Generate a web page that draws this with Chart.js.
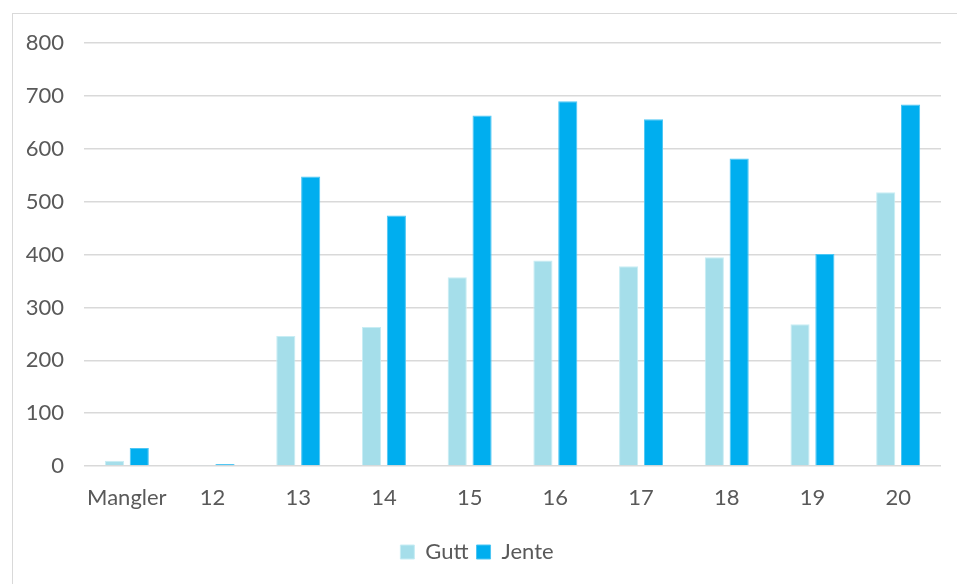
<!DOCTYPE html>
<html>
<head>
<meta charset="utf-8">
<script src="https://cdn.jsdelivr.net/npm/chart.js@4/dist/chart.umd.min.js"></script>
<style>
  body { margin: 0; background: #fff; }
  #box {
    position: absolute; left: 12px; top: 13px;
    width: 960px; height: 590px;
    border: 1px solid #d9d9d9;
    overflow: hidden;
  }
  #chart { position: relative; top: -4px; }
</style>
</head>
<body>
<div id="box"><canvas id="chart" width="960" height="575"></canvas></div>
<script>
const labels = ["Mangler", "12", "13", "14", "15", "16", "17", "18", "19", "20"];
const gutt = [10, 1, 246, 263, 357, 389, 378, 395, 268, 518];
const jente = [34, 4, 548, 474, 663, 690, 656, 582, 401, 684];

Chart.defaults.font.family = "Lato, 'Liberation Sans', sans-serif";
Chart.defaults.font.size = 22;
Chart.defaults.color = "#595959";

const config = {
    type: "bar",
    data: {
        labels,
        datasets: [
            {
                label: "Gutt",
                data: gutt,
                backgroundColor: "#a5deea",
                borderColor: "#c8edf4",
                borderWidth: 1,
                categoryPercentage: 0.58,
                barPercentage: 0.77,
            },
            {
                label: "Jente",
                data: jente,
                backgroundColor: "#00aeef",
                borderColor: "#4cc6f4",
                borderWidth: 1,
                categoryPercentage: 0.58,
                barPercentage: 0.77,
            },
        ],
    },
    options: {
        responsive: false,
        animation: false,
        layout: { padding: { left: 0, right: 32, top: 10, bottom: 12 } },
        plugins: {
            tooltip: { enabled: false },
            legend: {
                position: "bottom",
                labels: { boxWidth: 14, boxHeight: 14, padding: 8 },
            },
        },
        scales: {
            x: {
                grid: { display: false },
                border: { display: false },
                ticks: { padding: 11, maxRotation: 0 },
                afterFit: (s) => { s.height = 67; },
            },
            y: {
                min: 0,
                max: 800,
                ticks: { stepSize: 100, padding: 20 },
                grid: { color: "#d9d9d9", lineWidth: 1.5, drawTicks: false },
                border: { display: false },
                afterFit: (s) => { s.width = 71; },
            },
        },
    },
};

const chart = new Chart(document.getElementById("chart"), config);
</script>
</body>
</html>
